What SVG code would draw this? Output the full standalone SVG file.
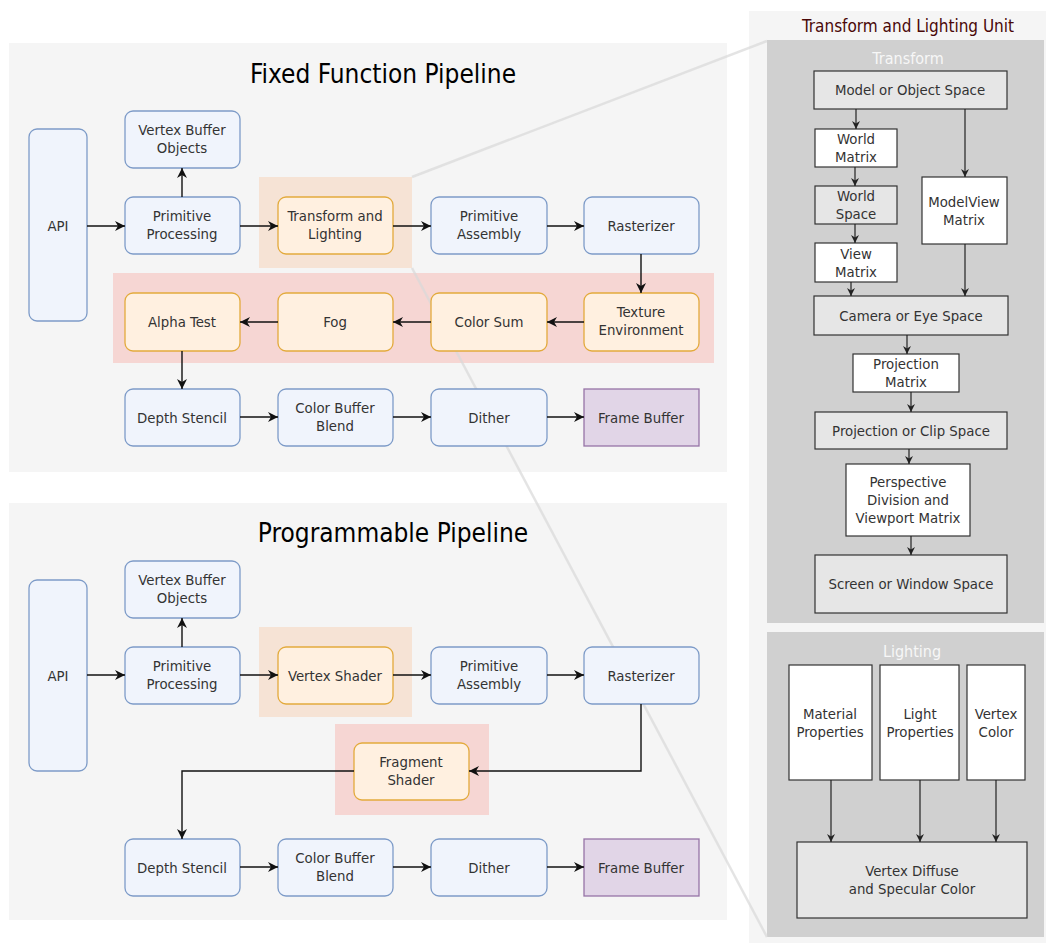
<svg xmlns="http://www.w3.org/2000/svg" width="1046" height="943" viewBox="0 0 1046 943">
<style>
text{font-family:"DejaVu Sans Condensed","Liberation Sans",Arial,sans-serif;fill:#333;text-anchor:middle}
.t{font-size:14.8px}
.title{font-size:26px;fill:#000}
.pnl{fill:#f5f5f5}
.b{fill:#f0f4fc;stroke:#7d9bc8;stroke-width:1.3}
.o{fill:#fff0e0;stroke:#e3aa3c;stroke-width:1.3}
.fb{fill:#e1d5e7;stroke:#9673a6;stroke-width:1.3}
.g{fill:#e6e6e6;stroke:#333;stroke-width:1.2}
.w{fill:#fff;stroke:#333;stroke-width:1.2}
.c{fill:none;stroke:#111;stroke-width:1.4;marker-end:url(#a)}
.cr{fill:none;stroke:#222;stroke-width:1.2;marker-end:url(#s)}
.zl{stroke:#d8d8d8;stroke-opacity:0.7;stroke-width:2.5;fill:none}
.sec{font-size:16px;fill:#f7f7f7}
</style>
<defs>
<marker id="a" markerUnits="userSpaceOnUse" markerWidth="11" markerHeight="10" refX="10" refY="5" orient="auto"><path d="M0,0 L10,5 L0,10 L3,5 z" fill="#111"/></marker>
<marker id="s" markerUnits="userSpaceOnUse" markerWidth="9" markerHeight="8" refX="8" refY="4" orient="auto"><path d="M0,0 L8,4 L0,8 L2.5,4 z" fill="#222"/></marker>
</defs>

<g id="panels">
<rect class="pnl" x="9" y="43" width="718" height="429"/>
<rect class="pnl" x="9" y="503" width="718" height="417"/>
<rect class="pnl" x="749" y="11" width="297" height="932"/>
<rect x="259" y="177" width="153" height="91" fill="#f6e3d5"/>
<rect x="113" y="273" width="601" height="90" fill="#f6d6d3"/>
<rect x="259" y="627" width="153" height="90" fill="#f6e3d5"/>
<rect x="335" y="724" width="154" height="91" fill="#f6d6d3"/>
<rect x="767" y="40" width="277" height="583" fill="#d0d0d0"/>
<rect x="767" y="632" width="277" height="305" fill="#d0d0d0"/>
<text x="383" y="83" class="title">Fixed Function Pipeline</text>
<text x="393" y="542" class="title">Programmable Pipeline</text>
<text x="908" y="32" style="font-size:17px;fill:#4a0808">Transform and Lighting Unit</text>
<text x="908" y="64" class="sec">Transform</text>
<text x="912" y="657" class="sec">Lighting</text>
</g>

<g id="zoomlines">
<path class="zl" d="M412,177 L767,41"/>
<path class="zl" d="M412,268 L767,937"/>
</g>

<g id="ff-api"><rect class="b" x="29" y="129" width="58" height="192" rx="8"/><text class="t" x="58" y="231">API</text></g>
<g id="ff-vbo"><rect class="b" x="125" y="111" width="115" height="57" rx="8"/><text class="t" x="182" y="135">Vertex Buffer</text><text class="t" x="182" y="153">Objects</text></g>
<g id="ff-pp"><rect class="b" x="125" y="197" width="115" height="57" rx="8"/><text class="t" x="182" y="221">Primitive</text><text class="t" x="182" y="239">Processing</text></g>
<g id="ff-tl"><rect class="o" x="278" y="197" width="115" height="57" rx="8"/><text class="t" x="335" y="221">Transform and</text><text class="t" x="335" y="239">Lighting</text></g>
<g id="ff-pa"><rect class="b" x="431" y="197" width="116" height="57" rx="8"/><text class="t" x="489" y="221">Primitive</text><text class="t" x="489" y="239">Assembly</text></g>
<g id="ff-rast"><rect class="b" x="584" y="197" width="115" height="57" rx="8"/><text class="t" x="641" y="231">Rasterizer</text></g>
<g id="ff-tex"><rect class="o" x="584" y="293" width="115" height="58" rx="8"/><text class="t" x="641" y="317">Texture</text><text class="t" x="641" y="335">Environment</text></g>
<g id="ff-cs"><rect class="o" x="431" y="293" width="116" height="58" rx="8"/><text class="t" x="489" y="327">Color Sum</text></g>
<g id="ff-fog"><rect class="o" x="278" y="293" width="115" height="58" rx="8"/><text class="t" x="335" y="327">Fog</text></g>
<g id="ff-alpha"><rect class="o" x="125" y="293" width="115" height="58" rx="8"/><text class="t" x="182" y="327">Alpha Test</text></g>
<g id="ff-depth"><rect class="b" x="125" y="389" width="115" height="57" rx="8"/><text class="t" x="182" y="423">Depth Stencil</text></g>
<g id="ff-cbb"><rect class="b" x="278" y="389" width="115" height="57" rx="8"/><text class="t" x="335" y="413">Color Buffer</text><text class="t" x="335" y="431">Blend</text></g>
<g id="ff-dither"><rect class="b" x="431" y="389" width="116" height="57" rx="8"/><text class="t" x="489" y="423">Dither</text></g>
<g id="ff-fb"><rect class="fb" x="584" y="389" width="115" height="57"/><text class="t" x="641" y="423">Frame Buffer</text></g>

<g id="pp-api"><rect class="b" x="29" y="580" width="58" height="191" rx="8"/><text class="t" x="58" y="681">API</text></g>
<g id="pp-vbo"><rect class="b" x="125" y="561" width="115" height="57" rx="8"/><text class="t" x="182" y="585">Vertex Buffer</text><text class="t" x="182" y="603">Objects</text></g>
<g id="pp-pp"><rect class="b" x="125" y="647" width="115" height="57" rx="8"/><text class="t" x="182" y="671">Primitive</text><text class="t" x="182" y="689">Processing</text></g>
<g id="pp-vs"><rect class="o" x="278" y="647" width="115" height="57" rx="8"/><text class="t" x="335" y="681">Vertex Shader</text></g>
<g id="pp-pa"><rect class="b" x="431" y="647" width="116" height="57" rx="8"/><text class="t" x="489" y="671">Primitive</text><text class="t" x="489" y="689">Assembly</text></g>
<g id="pp-rast"><rect class="b" x="584" y="647" width="115" height="57" rx="8"/><text class="t" x="641" y="681">Rasterizer</text></g>
<g id="pp-fs"><rect class="o" x="354" y="743" width="115" height="57" rx="8"/><text class="t" x="411" y="767">Fragment</text><text class="t" x="411" y="785">Shader</text></g>
<g id="pp-depth"><rect class="b" x="125" y="839" width="115" height="57" rx="8"/><text class="t" x="182" y="873">Depth Stencil</text></g>
<g id="pp-cbb"><rect class="b" x="278" y="839" width="115" height="57" rx="8"/><text class="t" x="335" y="863">Color Buffer</text><text class="t" x="335" y="881">Blend</text></g>
<g id="pp-dither"><rect class="b" x="431" y="839" width="116" height="57" rx="8"/><text class="t" x="489" y="873">Dither</text></g>
<g id="pp-fb"><rect class="fb" x="584" y="839" width="115" height="57"/><text class="t" x="641" y="873">Frame Buffer</text></g>

<g id="tl-model"><rect class="g" x="814" y="71" width="193" height="38"/><text class="t" x="910" y="95">Model or Object Space</text></g>
<g id="tl-wm"><rect class="w" x="815" y="129" width="82" height="38"/><text class="t" x="856" y="144">World</text><text class="t" x="856" y="162">Matrix</text></g>
<g id="tl-ws"><rect class="g" x="815" y="186" width="82" height="38"/><text class="t" x="856" y="201">World</text><text class="t" x="856" y="219">Space</text></g>
<g id="tl-vm"><rect class="w" x="815" y="243" width="82" height="39"/><text class="t" x="856" y="259">View</text><text class="t" x="856" y="277">Matrix</text></g>
<g id="tl-mv"><rect class="w" x="922" y="177" width="85" height="67"/><text class="t" x="964" y="207">ModelView</text><text class="t" x="964" y="225">Matrix</text></g>
<g id="tl-cam"><rect class="g" x="814" y="296" width="194" height="39"/><text class="t" x="911" y="321">Camera or Eye Space</text></g>
<g id="tl-pm"><rect class="w" x="853" y="354" width="106" height="38"/><text class="t" x="906" y="369">Projection</text><text class="t" x="906" y="387">Matrix</text></g>
<g id="tl-clip"><rect class="g" x="815" y="412" width="192" height="37"/><text class="t" x="911" y="436">Projection or Clip Space</text></g>
<g id="tl-persp"><rect class="w" x="846" y="464" width="124" height="72"/><text class="t" x="908" y="487">Perspective</text><text class="t" x="908" y="505">Division and</text><text class="t" x="908" y="523">Viewport Matrix</text></g>
<g id="tl-screen"><rect class="g" x="815" y="555" width="192" height="58"/><text class="t" x="911" y="589">Screen or Window Space</text></g>
<g id="tl-mat"><rect class="w" x="789" y="665" width="83" height="115"/><text class="t" x="830" y="719">Material</text><text class="t" x="830" y="737">Properties</text></g>
<g id="tl-light"><rect class="w" x="880" y="665" width="79" height="115"/><text class="t" x="920" y="719">Light</text><text class="t" x="920" y="737">Properties</text></g>
<g id="tl-vc"><rect class="w" x="967" y="665" width="58" height="115"/><text class="t" x="996" y="719">Vertex</text><text class="t" x="996" y="737">Color</text></g>
<g id="tl-vd"><rect class="g" x="797" y="842" width="230" height="76"/><text class="t" x="912" y="876">Vertex Diffuse</text><text class="t" x="912" y="894">and Specular Color</text></g>

<g id="connectors">
<path class="c" d="M87,226 L125,226"/>
<path class="c" d="M182,197 L182,168"/>
<path class="c" d="M240,226 L278,226"/>
<path class="c" d="M393,226 L431,226"/>
<path class="c" d="M547,226 L584,226"/>
<path class="c" d="M641,254 L641,293"/>
<path class="c" d="M584,322 L547,322"/>
<path class="c" d="M431,322 L393,322"/>
<path class="c" d="M278,322 L240,322"/>
<path class="c" d="M182,351 L182,389"/>
<path class="c" d="M240,417 L278,417"/>
<path class="c" d="M393,417 L431,417"/>
<path class="c" d="M547,417 L584,417"/>

<path class="c" d="M87,675 L125,675"/>
<path class="c" d="M182,647 L182,618"/>
<path class="c" d="M240,675 L278,675"/>
<path class="c" d="M393,675 L431,675"/>
<path class="c" d="M547,675 L584,675"/>
<path class="c" d="M641,704 L641,771 L469,771"/>
<path class="c" d="M354,771 L182,771 L182,839"/>
<path class="c" d="M240,867 L278,867"/>
<path class="c" d="M393,867 L431,867"/>
<path class="c" d="M547,867 L584,867"/>

<path class="cr" d="M856,109 L856,129"/>
<path class="cr" d="M965,109 L965,177"/>
<path class="cr" d="M855,167 L855,186"/>
<path class="cr" d="M855,224 L855,243"/>
<path class="cr" d="M851,282 L851,296"/>
<path class="cr" d="M965,244 L965,296"/>
<path class="cr" d="M907,335 L907,354"/>
<path class="cr" d="M911,392 L911,412"/>
<path class="cr" d="M909,449 L909,464"/>
<path class="cr" d="M911,536 L911,555"/>
<path class="cr" d="M831,780 L831,842"/>
<path class="cr" d="M920,780 L920,842"/>
<path class="cr" d="M996,780 L996,842"/>
</g>
</svg>
